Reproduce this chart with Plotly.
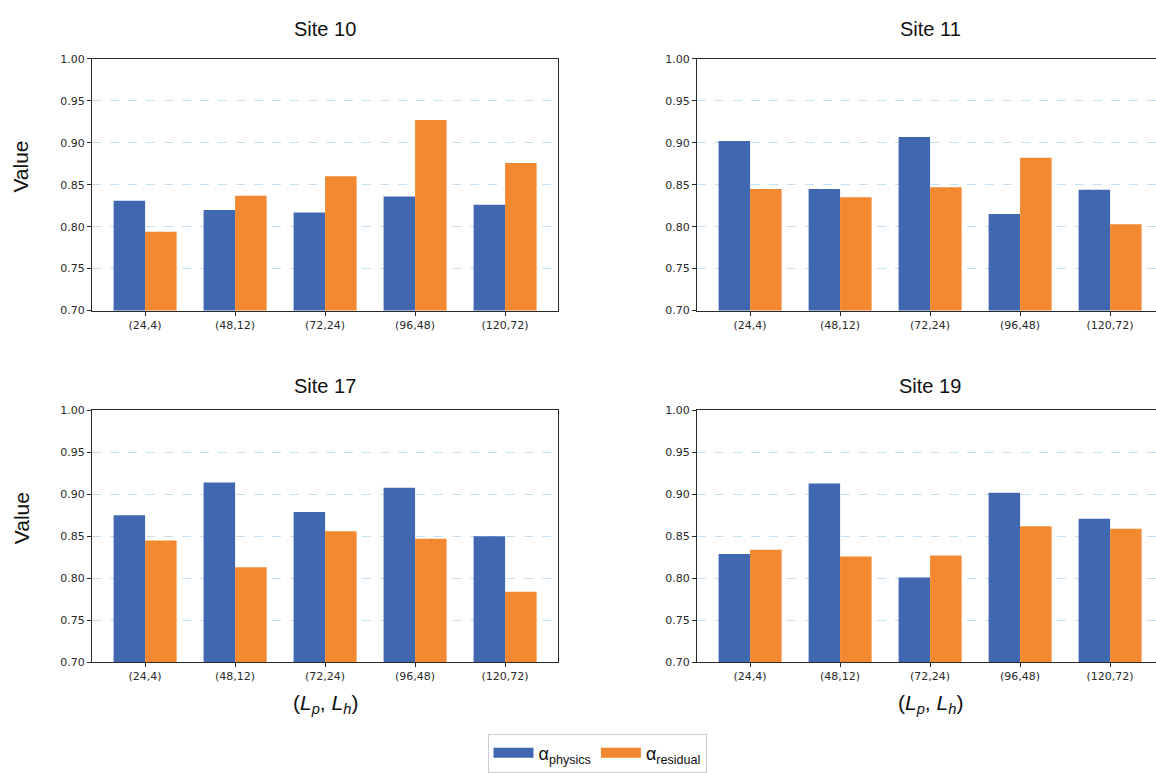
import plotly.graph_objects as go

categories = ["(24,4)", "(48,12)", "(72,24)", "(96,48)", "(120,72)"]
sites = ["Site 10", "Site 11", "Site 17", "Site 19"]
physics_site10 = [0.831, 0.820, 0.817, 0.836, 0.826]
residual_site10 = [0.794, 0.837, 0.860, 0.927, 0.876]
physics_site11 = [0.902, 0.845, 0.907, 0.815, 0.844]
residual_site11 = [0.845, 0.835, 0.847, 0.882, 0.803]
physics_site17 = [0.875, 0.914, 0.879, 0.908, 0.850]
residual_site17 = [0.845, 0.813, 0.856, 0.847, 0.784]
physics_site19 = [0.829, 0.913, 0.801, 0.902, 0.871]
residual_site19 = [0.834, 0.826, 0.827, 0.862, 0.859]
y_ticks = [0.70, 0.75, 0.80, 0.85, 0.90, 0.95, 1.00]
legend_names = ["α<sub>physics</sub>", "α<sub>residual</sub>"]

physics = [physics_site10, physics_site11, physics_site17, physics_site19]
residual = [residual_site10, residual_site11, residual_site17, residual_site19]

BLUE = "#4068B1"
ORANGE = "#F2882F"
W, H = 1156, 773

# panel pixel boxes (x0, x1, y_top, y_bottom), title y, ylabel y
panels = [(92, 558, 54, 311), (697, 1156, 54, 311),
          (92, 558, 413, 670), (697, 1156, 413, 670)]
title_y = [23, 23, 388, 388]
ylabel_y = [164, 164, 523, 523]
px_per_cat = 90.0

fig = go.Figure()
for i in range(4):
    xa = "x" if i == 0 else f"x{i+1}"
    ya = "y" if i == 0 else f"y{i+1}"
    fig.add_trace(go.Bar(x=categories, y=physics[i], name=legend_names[0],
                         marker=dict(color=BLUE, line=dict(width=0)),
                         xaxis=xa, yaxis=ya, showlegend=False))
    fig.add_trace(go.Bar(x=categories, y=residual[i], name=legend_names[1],
                         marker=dict(color=ORANGE, line=dict(width=0)),
                         xaxis=xa, yaxis=ya, showlegend=False))

for name, col in zip(legend_names, [BLUE, ORANGE]):
    fig.add_trace(go.Scatter(x=[None], y=[None], mode="lines", name=name,
                             line=dict(color=col, width=10), showlegend=True,
                             hoverinfo="skip"))

layout = {}
annotations = []
for i, (x0, x1, yt, yb) in enumerate(panels):
    xk = "xaxis" if i == 0 else f"xaxis{i+1}"
    yk = "yaxis" if i == 0 else f"yaxis{i+1}"
    xref = "x" if i == 0 else f"x{i+1}"
    yref = "y" if i == 0 else f"y{i+1}"
    rng_w = (x1 - x0) / px_per_cat
    right_panel = (i % 2 == 1)
    layout[xk] = dict(
        domain=[x0 / W, x1 / W], anchor=yref, type="category",
        categoryorder="array", categoryarray=categories,
        range=[-0.59, -0.59 + rng_w],
        showline=True, linecolor="#2a2a2a", linewidth=1.2, mirror=True,
        ticks="outside", ticklen=4, tickcolor="#2a2a2a",
        tickfont=dict(family="DejaVu Sans", size=11, color="#2a2a2a"),
        showgrid=False, zeroline=False, fixedrange=True,
    )
    layout[yk] = dict(
        domain=[(H - yb) / H, (H - yt) / H], anchor=xref,
        range=[0.70, 1.00], tickvals=y_ticks, tickformat=".2f",
        showline=True, linecolor="#2a2a2a", linewidth=1.2,
        mirror=(not right_panel),
        ticks="outside", ticklen=4, tickcolor="#2a2a2a",
        tickfont=dict(family="DejaVu Sans", size=11, color="#2a2a2a"),
        showgrid=True, gridcolor="#c5e0f2", griddash="dash", gridwidth=1,
        zeroline=False, fixedrange=True,
    )
    cx = ((x0 + (x0 + 466)) / 2) / W
    annotations.append(dict(text=sites[i], x=cx, y=1 - title_y[i] / H,
                            xref="paper", yref="paper", showarrow=False,
                            xanchor="center", yanchor="middle",
                            font=dict(family="Liberation Sans, Arial", size=20, color="#111111")))
    if i % 2 == 0:
        annotations.append(dict(text="Value", x=21 / W, y=1 - ylabel_y[i] / H,
                                xref="paper", yref="paper", showarrow=False,
                                textangle=-90, xanchor="center", yanchor="middle",
                                font=dict(family="Liberation Sans, Arial", size=21, color="#111111")))
    if i >= 2:
        annotations.append(dict(text="(<i>L</i><sub><i>p</i></sub>, <i>L</i><sub><i>h</i></sub>)",
                                x=cx, y=1 - 713 / H,
                                xref="paper", yref="paper", showarrow=False,
                                xanchor="center", yanchor="middle",
                                font=dict(family="Liberation Sans, Arial", size=21, color="#111111")))

fig.update_layout(
    width=W, height=H,
    margin=dict(l=0, r=0, t=0, b=0),
    paper_bgcolor="white", plot_bgcolor="white",
    barmode="group", bargap=0.3, bargroupgap=0.0,
    annotations=annotations,
    legend=dict(orientation="h", x=597 / W, y=1 - 743 / H, xanchor="center", yanchor="top",
                bordercolor="#cccccc", borderwidth=1, bgcolor="white",
                font=dict(family="Liberation Sans, Arial", size=18, color="#111111"),
                itemwidth=40, tracegroupgap=0),
    **layout,
)

fig.write_html("out.html", config={"displayModeBar": False},
               post_script="document.body.style.margin='0';document.body.style.overflow='hidden';")
